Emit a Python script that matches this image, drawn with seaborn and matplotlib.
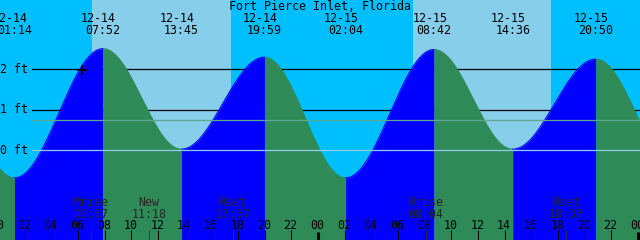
import numpy as np
import pandas as pd
import matplotlib
matplotlib.use("Agg")
import matplotlib.pyplot as plt
import seaborn as sns
from matplotlib.transforms import blended_transform_factory, offset_copy

# ---------------- data ----------------
title = "Fort Pierce Inlet, Florida"

# tide extremes: day offset from 12-14, date label, clock time, level (ft)
event_days = [-1, 0, 0, 0, 0, 1, 1, 1, 1, 2]
event_dates = ["12-13", "12-14", "12-14", "12-14", "12-14", "12-15", "12-15", "12-15", "12-15", "12-16"]
event_times = ["19:05", "01:14", "07:52", "13:45", "19:59", "02:04", "08:42", "14:36", "20:50", "03:10"]
event_levels = [2.27, -0.69, 2.51, 0.02, 2.30, -0.69, 2.49, 0.02, 2.25, -0.67]

# sun (day = lighter sky)
sunrise_hours = [7.05, 31.10]
sunset_hours = [17.47, 41.47]

# moon events
moon_names = ["Mrise", "New", "Mset", "Mrise", "Mset"]
moon_days = [0, 0, 0, 1, 1]
moon_times = ["06:57", "11:18", "17:37", "08:04", "18:37"]

# level reference lines (ft)
grid_levels = [1, 2]
grid_labels = ["1 ft", "2 ft"]
datum_level = 0
datum_label = "0 ft"
mean_level = 0.74

# "now" mark
mark_hour = 6.27
mark_level = 1.98

hour_tick_labels = ["00", "02", "04", "06", "08", "10", "12", "14", "16", "18", "20", "22"]

# ---------------- helpers ----------------
def to_hours(day, hhmm):
    h, m = hhmm.split(":")
    return day * 24 + int(h) + int(m) / 60.0

ev_h = np.array([to_hours(d, t) for d, t in zip(event_days, event_times)])
ev_l = np.array(event_levels)

rows = []
for i in range(len(ev_h) - 1):
    t = np.linspace(ev_h[i], ev_h[i + 1], 200)
    frac = (1 - np.cos(np.pi * (t - ev_h[i]) / (ev_h[i + 1] - ev_h[i]))) / 2
    lv = ev_l[i] + (ev_l[i + 1] - ev_l[i]) * frac
    phase = "rise" if ev_l[i + 1] > ev_l[i] else "fall"
    for a, b in zip(t, lv):
        rows.append((a, b, phase, i))
df = pd.DataFrame(rows, columns=["hour", "level", "phase", "seg"])

# ---------------- figure ----------------
sns.set_theme(style="white")
plt.rcParams["font.family"] = ["DejaVu Sans Mono", "DejaVu Sans"]

W, H = 640, 240
fig = plt.figure(figsize=(6.4, 2.4), dpi=100)
ax = fig.add_axes([0, 0, 1, 1])

X0 = 0.147
X1 = 48.147
Y0 = -2.230
Y1 = 3.717
ax.set_xlim(X0, X1)
ax.set_ylim(Y0, Y1)
ax.set_facecolor("#00BFFF")
for s in ax.spines.values():
    s.set_visible(False)

rise_c = "#0000FF"
fall_c = "#2E8B57"

# day shading
for sr, ss in zip(sunrise_hours, sunset_hours):
    ax.axvspan(sr, ss, color="#87CEEB", lw=0, zorder=0)

# black grid lines behind water
for lv in grid_levels:
    ax.axhline(lv, xmin=32 / W, xmax=1, color="black", lw=0.9, zorder=1)

# water fill
for i in range(len(ev_h) - 1):
    seg = df[df.seg == i]
    c = rise_c if seg.phase.iloc[0] == "rise" else fall_c
    ax.fill_between(seg.hour, seg.level, Y0, color=c, lw=0, zorder=2,
                    antialiased=False)

sns.lineplot(data=df, x="hour", y="level", hue="phase", units="seg",
             estimator=None, palette={"rise": rise_c, "fall": fall_c},
             legend=False, lw=0.8, ax=ax, zorder=2.5)
ax.set_xlabel("")
ax.set_ylabel("")
ax.set_xticks([])
ax.set_yticks([])
ax.set_xlim(X0, X1)
ax.set_ylim(Y0, Y1)

# datum & mean lines on top
ax.axhline(datum_level, xmin=32 / W, xmax=1, color="#8FCDE8", lw=0.9, zorder=3)
ax.axhline(mean_level, xmin=32 / W, xmax=1, color="#5FA88F", lw=0.9, zorder=3)

# mark
ax.plot([mark_hour], [mark_level], marker="+", color="black", ms=6.5, mew=1.3, zorder=4)

fs = 8.4
bt = blended_transform_factory(ax.transData, ax.transAxes)
def ypx(p):
    return 1 - p / H

# title
ax.text(0.5, ypx(9.5), title, transform=ax.transAxes, ha="center", va="baseline",
        fontsize=fs, color="black", zorder=5)

# event labels
date_tr = offset_copy(bt, fig=fig, x=-4.3, units="dots")
for h, d, t in zip(ev_h, event_dates, event_times):
    if X0 - 1 <= h <= X1 + 1:
        ax.text(h, ypx(21.7), d, transform=date_tr, ha="center", va="baseline",
                fontsize=fs, color="black", zorder=5)
        ax.text(h, ypx(34), t, transform=bt, ha="center", va="baseline",
                fontsize=fs, color="black", zorder=5)

# level labels
for lv, lab in zip(grid_levels + [datum_level], grid_labels + [datum_label]):
    ax.text(0.0, lv, lab, transform=blended_transform_factory(ax.transAxes, ax.transData),
            ha="left", va="center", fontsize=fs, color="black", zorder=5)

# moon labels and ticks
for n, d, t in zip(moon_names, moon_days, moon_times):
    h = to_hours(d, t)
    ax.text(h, ypx(206), n, transform=bt, ha="center", va="baseline", fontsize=fs, zorder=5)
    ax.text(h, ypx(217.7), t, transform=bt, ha="center", va="baseline", fontsize=fs, zorder=5)
    ax.vlines(h, 0, 10 / H, transform=bt, color="#333333", lw=0.6, zorder=5)

# hour ticks and labels
for day in range(3):
    for k, lab in enumerate(hour_tick_labels):
        h = day * 24 + 2 * k
        if h < X0 - 1 or h > X1 + 1:
            continue
        if k == 0:
            ax.vlines(h, 0, 8 / H, transform=bt, color="black", lw=2.2, zorder=5)
        else:
            ax.vlines(h, 0, 10 / H, transform=bt, color="black", lw=0.8, zorder=5)
        ax.text(h - 0.06, ypx(229.3), lab, transform=bt, ha="center", va="baseline",
                fontsize=fs, color="black", zorder=5)

fig.savefig("out.png", dpi=100)
